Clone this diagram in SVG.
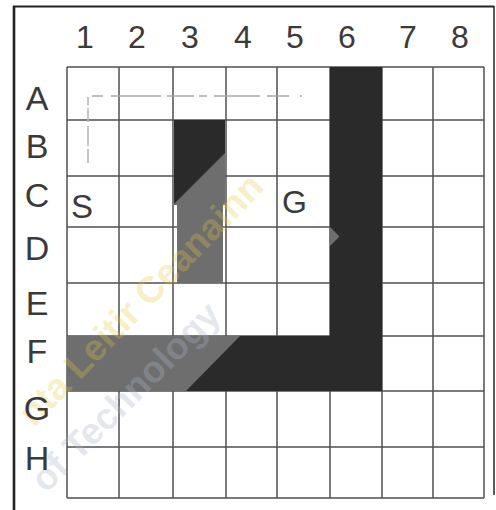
<svg xmlns="http://www.w3.org/2000/svg" width="496" height="510" viewBox="0 0 496 510">
  <style>
    .grid { stroke: #505050; stroke-width: 1.5; fill: none; }
    .frame { stroke: #222; fill: none; }
    .lbl { font-family: "Liberation Sans", Arial, sans-serif; fill: #3a3a3a; }
    .blk { fill: #2a2a2a; }
    .gry { fill: #6e6e6e; }
    .wm { font-family: "Liberation Sans", Arial, sans-serif; font-weight: bold; font-size: 37px; }
  </style>
  <rect x="0" y="0" width="496" height="510" fill="#ffffff"/>

  <g id="frame">
    <line class="frame" x1="14" y1="6" x2="14" y2="510" stroke-width="2.6"/>
    <line class="frame" x1="13" y1="6.5" x2="494" y2="6.5" stroke-width="2"/>
    <line class="frame" x1="494" y1="6" x2="494" y2="495" stroke-width="1.5" stroke="#555"/>
  </g>

  <g id="grid" class="grid">
    <path d="M67,67 V498 M119,67 V498 M173,67 V498 M226,67 V498 M277,67 V498 M330,67 V498 M382,67 V498 M433,67 V498 M484,67 V498"/>
    <path d="M67,67 H484 M67,120 H484 M67,176 H484 M67,227 H484 M67,283 H484 M67,336 H484 M67,391 H484 M67,447 H484 M67,498 H484"/>
  </g>

  <g id="obstacles">
    <rect class="blk" x="330" y="67" width="52" height="324"/>
    <rect class="blk" x="67" y="336" width="315" height="55"/>
    <rect class="blk" x="174" y="120" width="51" height="85"/>
    <rect class="blk" x="177" y="203" width="46" height="80"/>
    <polygon class="gry" points="174,204 225,153 225,205 174,205"/>
    <rect class="gry" x="177" y="204" width="46" height="79"/>
    <polygon class="gry" points="67,336 240,336 186,391 67,391"/>
    <polygon class="gry" points="330,227 339.5,236.5 330,246"/>
  </g>

  <g id="route" fill="none">
    <path d="M88,163 V97" stroke="#b4b4b4" stroke-width="1.5" stroke-dasharray="14 3 20 4"/>
    <path d="M92,96 H302" stroke="#a8a8a8" stroke-width="1.6" stroke-dasharray="11 8 50 6 27 5 8 7 46 7 22"/>
  </g>

  <g id="watermark">
    <text class="wm" fill="#e6c83a" fill-opacity="0.3" transform="translate(34,428) rotate(-46)">nta Leitir Ceanainn</text>
    <text class="wm" fill="#a9b6c4" fill-opacity="0.32" transform="translate(46,494) rotate(-45)">of Technology</text>
  </g>

  <g id="col-labels" class="lbl" font-size="32" text-anchor="middle">
    <text x="85" y="48">1</text>
    <text x="137" y="48">2</text>
    <text x="190" y="48">3</text>
    <text x="243" y="48">4</text>
    <text x="295" y="48">5</text>
    <text x="347" y="48">6</text>
    <text x="408" y="48">7</text>
    <text x="460" y="48">8</text>
  </g>

  <g id="row-labels" class="lbl" font-size="34" text-anchor="middle">
    <text x="37" y="110">A</text>
    <text x="37" y="158">B</text>
    <text x="37" y="207">C</text>
    <text x="37" y="260">D</text>
    <text x="37" y="315">E</text>
    <text x="37" y="363">F</text>
    <text x="37" y="420">G</text>
    <text x="37" y="470">H</text>
  </g>

  <g id="start">
    <text class="lbl" x="71" y="218" font-size="33">S</text>
  </g>
  <g id="goal">
    <text class="lbl" x="282" y="213" font-size="32">G</text>
  </g>
</svg>
